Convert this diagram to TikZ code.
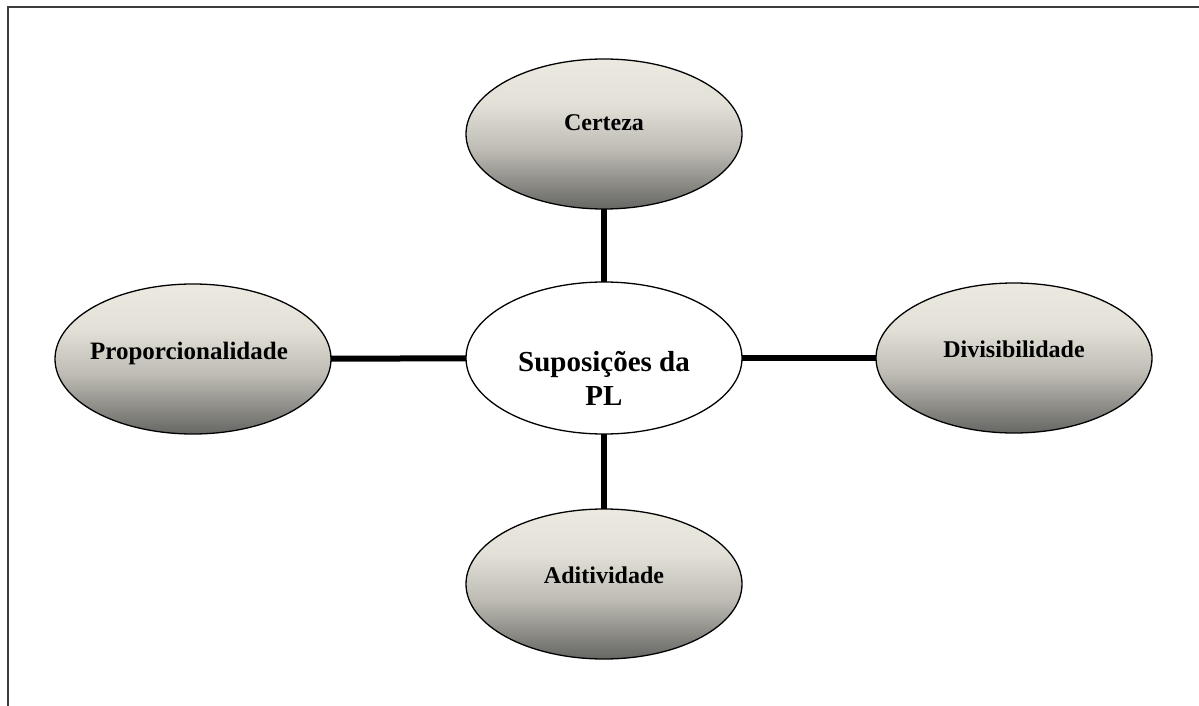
\documentclass[tikz,border=0pt]{standalone}
\usepackage{fontspec}
\setmainfont{Liberation Serif}
\usetikzlibrary{shapes.geometric}
\definecolor{gLt}{RGB}{235,233,224}
\definecolor{gLt2}{RGB}{226,224,215}
\definecolor{gMid}{RGB}{190,188,180}
\definecolor{gDk}{RGB}{102,102,99}
\definecolor{frameC}{RGB}{60,60,60}
\pgfdeclareverticalshading{ellgrad}{100bp}{color(0bp)=(gDk); color(25bp)=(gDk); color(45bp)=(gMid); color(60bp)=(gLt2); color(75bp)=(gLt); color(100bp)=(gLt)}
\tikzset{
  outerell/.style={ellipse, draw=black, line width=1.3pt, shading=ellgrad, inner sep=0pt, outer sep=0pt, minimum width=276pt, minimum height=150pt},
  centerell/.style={ellipse, draw=black, line width=1.3pt, fill=white, inner sep=0pt, outer sep=0pt, minimum width=276pt, minimum height=152pt},
  lbl/.style={anchor=base, font=\fontsize{24}{28}\selectfont\bfseries, inner sep=0pt},
  lblw/.style={anchor=base, font=\fontsize{25}{29}\selectfont\bfseries, inner sep=0pt},
  clbl/.style={anchor=base, font=\fontsize{29}{34}\selectfont\bfseries, inner sep=0pt},
  conn/.style={line width=6pt, black},
  framel/.style={line width=2pt, frameC}
}
\begin{document}
\begin{tikzpicture}[x=1pt,y=-1pt]
\useasboundingbox (0,0) rectangle (1199,706);
\coordinate (fa) at (7.5,706);
\coordinate (fb) at (7.5,7.5);
\coordinate (fc) at (1199,7.5);
\draw[framel] (fa) -- (fb) -- (fc);
\node[outerell] (cert) at (604,134) {};
\node[centerell] (cent) at (604,358) {};
\node[outerell] (prop) at (193,359) {};
\node[outerell] (divi) at (1014,358) {};
\node[outerell] (adit) at (604,584) {};
\draw[conn] (cert) -- (cent);
\draw[conn] (cent) -- (adit);
\draw[conn] (prop) -- (cent);
\draw[conn] (cent) -- (divi);
\node[lbl] (tcert) at (604,131) {Certeza};
\node[lblw] (tprop) at (189,359) {Proporcionalidade};
\node[lbl] (tdivi) at (1014,357) {Divisibilidade};
\node[lbl] (tadit) at (604,583) {Aditividade};
\node[clbl] (tcent1) at (604,371) {Suposições da};
\node[clbl] (tcent2) at (604,405) {PL};
\end{tikzpicture}
\end{document}
